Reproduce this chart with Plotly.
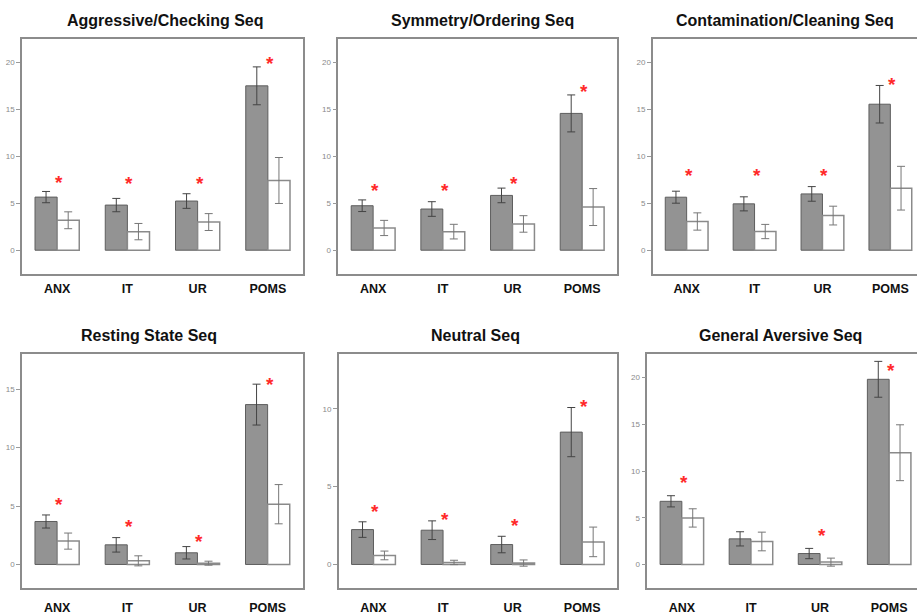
import plotly.graph_objects as go

W, H = 917, 615

categories = ["ANX", "IT", "UR", "POMS"]
titles = ["Aggressive/Checking Seq", "Symmetry/Ordering Seq", "Contamination/Cleaning Seq",
          "Resting State Seq", "Neutral Seq", "General Aversive Seq"]

dark_means = [[5.66, 4.81, 5.24, 17.52],
              [4.74, 4.39, 5.84, 14.58],
              [5.65, 4.94, 6.00, 15.56],
              [3.68, 1.68, 1.00, 13.69],
              [2.24, 2.20, 1.28, 8.50],
              [6.76, 2.74, 1.17, 19.82]]
dark_errs = [[0.60, 0.71, 0.78, 2.02],
             [0.62, 0.78, 0.78, 1.97],
             [0.64, 0.75, 0.78, 2.00],
             [0.56, 0.62, 0.53, 1.75],
             [0.50, 0.60, 0.53, 1.58],
             [0.60, 0.76, 0.55, 1.92]]
white_means = [[3.19, 1.98, 3.00, 7.43],
               [2.37, 1.98, 2.80, 4.60],
               [3.06, 1.99, 3.69, 6.61],
               [2.00, 0.31, 0.11, 5.16],
               [0.58, 0.13, 0.09, 1.45],
               [4.98, 2.46, 0.25, 11.96]]
white_errs = [[0.90, 0.87, 0.90, 2.45],
              [0.81, 0.78, 0.88, 1.97],
              [0.92, 0.76, 1.00, 2.33],
              [0.69, 0.43, 0.17, 1.68],
              [0.28, 0.14, 0.20, 0.95],
              [0.98, 1.00, 0.43, 2.99]]
star_heights = [[7.65, 7.54, 7.54, 20.35],
                [6.83, 6.83, 7.54, 17.30],
                [8.35, 8.35, 8.35, 18.10],
                [5.45, 3.59, 2.31, 15.77],
                [3.65, 3.16, 2.74, 10.38],
                [9.18, None, 3.52, 21.17]]
y_tickvals = [[0, 5, 10, 15, 20], [0, 5, 10, 15, 20], [0, 5, 10, 15, 20],
              [0, 5, 10, 15], [0, 5, 10], [0, 5, 10, 15, 20]]
y_ranges = [[-2.5, 22.5], [-2.5, 22.5], [-2.5, 22.5],
            [-2.0, 18.0], [-1.5, 13.5], [-2.5, 22.5]]

# layout (pixels)
x_px = [(22, 303, None), (338.3, 617, None), (652.7, 917, 67.9),
        (22, 302.7, None), (338.7, 617, None), (647.3, 917, 69.1)]
y_px = [(39.3, 275), (39.3, 275), (39.3, 275),
        (356, 590.7), (356, 590.7), (356, 590.7)]
title_x_px = [165, 482.5, 785, 149, 475.5, 780.3]
title_y_px = [21, 21, 21, 337.5, 337.5, 337.5]

fig = go.Figure()
annotations = []
layout_axes = {}

for i in range(6):
    n = i + 1
    xa = "x" if n == 1 else f"x{n}"
    ya = "y" if n == 1 else f"y{n}"
    xkey = "xaxis" if n == 1 else f"xaxis{n}"
    ykey = "yaxis" if n == 1 else f"yaxis{n}"

    fig.add_trace(go.Bar(
        x=categories, y=dark_means[i], xaxis=xa, yaxis=ya,
        marker=dict(color="#939393", line=dict(color="#5e5e5e", width=1)),
        error_y=dict(type="data", array=dark_errs[i], visible=True,
                     color="#444444", thickness=1, width=4),
        showlegend=False, offsetgroup="a"))
    fig.add_trace(go.Bar(
        x=categories, y=white_means[i], xaxis=xa, yaxis=ya,
        marker=dict(color="#ffffff", line=dict(color="#8a8a8a", width=1.5)),
        error_y=dict(type="data", array=white_errs[i], visible=True,
                     color="#777777", thickness=1, width=4),
        showlegend=False, offsetgroup="b"))

    x0, x1, spacing = x_px[i]
    if spacing is None:
        xr = [-0.5, 3.5]
        mirror_y = True
    else:
        xr = [-0.5, -0.5 + (x1 - x0) / spacing]
        mirror_y = False
    y0, y1 = y_px[i]
    bottom_row = i >= 3

    layout_axes[xkey] = dict(
        domain=[x0 / W, x1 / W], anchor=ya, type="category", range=xr,
        showline=True, mirror=True, linecolor="#8c8c8c", linewidth=1.5,
        showgrid=False, zeroline=False, ticks="",
        tickfont=dict(family="Liberation Sans, Arial", size=12.5, color="#111111"),
        ticklabelstandoff=7 if bottom_row else 3,
        tickprefix="<b>", ticksuffix="</b>")
    layout_axes[ykey] = dict(
        domain=[1 - y1 / H, 1 - y0 / H], anchor=xa, range=y_ranges[i],
        tickvals=y_tickvals[i], showline=True, mirror=mirror_y,
        linecolor="#8c8c8c", linewidth=1.5, showgrid=False, zeroline=False,
        ticks="outside", ticklen=4, tickcolor="#9a9a9a", tickwidth=1,
        tickfont=dict(family="Liberation Sans, Arial", size=8, color="#8a8a8a"))

    annotations.append(dict(
        x=title_x_px[i] / W, y=1 - title_y_px[i] / H, xref="paper", yref="paper",
        text=f"<b>{titles[i]}</b>", showarrow=False, xanchor="center", yanchor="middle",
        font=dict(family="Liberation Sans, Arial", size=16, color="#111111")))

    for j, sy in enumerate(star_heights[i]):
        if sy is None:
            continue
        annotations.append(dict(
            x=categories[j], y=sy, xref=xa, yref=ya, text="<b>*</b>", showarrow=False,
            xshift=2, yshift=-4,
            font=dict(family="Liberation Sans, Arial", size=19, color="#ff2a2a")))

fig.update_layout(
    width=W, height=H, margin=dict(l=0, r=0, t=0, b=0),
    paper_bgcolor="white", plot_bgcolor="white",
    barmode="group", bargap=0.37, bargroupgap=0,
    annotations=annotations, **layout_axes)

fig.write_html("out.html")
